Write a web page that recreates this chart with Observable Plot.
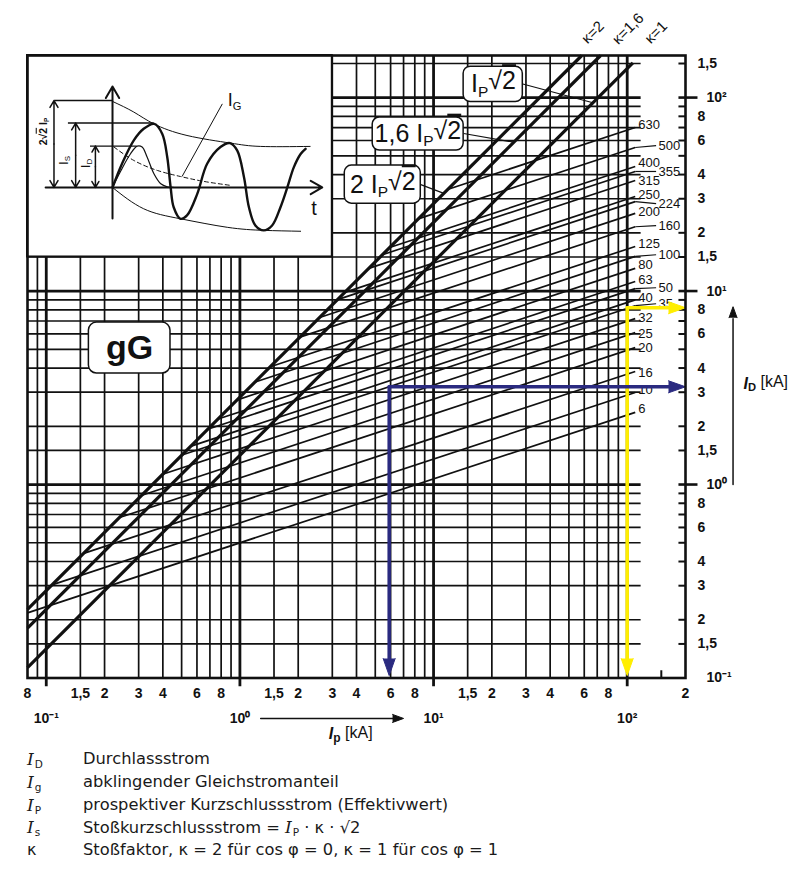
<!DOCTYPE html>
<html><head><meta charset="utf-8">
<script src="https://cdn.jsdelivr.net/npm/d3@7"></script>
<script src="https://cdn.jsdelivr.net/npm/@observablehq/plot@0.6"></script>
<style>
html,body{margin:0;padding:0;background:#fff;overflow:hidden}
#wrap{position:relative;width:800px;height:871px}
#main{position:absolute;left:0;top:0}
#inset{position:absolute;left:27px;top:55px}
#legend{position:absolute;left:0;top:748px;font-family:"DejaVu Sans",Verdana,sans-serif;font-size:16.3px;color:#1a1a1a}
.row{height:22.8px;line-height:22.8px;position:relative;width:800px}
.sym{position:absolute;left:27px;font-family:"DejaVu Serif",serif;font-style:italic;font-size:17px}
.sym.k{font-family:"DejaVu Sans",sans-serif;font-style:normal;font-size:16px}
sub{font-family:"DejaVu Sans",sans-serif;font-style:normal;font-size:10.5px;vertical-align:-3px;margin-left:1px}
.desc{position:absolute;left:83px;white-space:nowrap}
.desc i{font-family:"DejaVu Serif",serif;font-size:17px}
</style></head><body>
<div id="wrap"><div id="main"></div><div id="inset"></div><div id="legend"></div></div>
<script>
// ---------------- data ----------------
const ratings     = ["6","10","16","20","25","32","35","40","50","63","80","100","125","160","200","224","250","315","355","400","500","630"];
const fuseStartIp = [0.08,0.107,0.156,0.239,0.312,0.399,0.502,0.56,0.681,0.771,0.97,1.2,1.435,2.04,2.58,3.19,3.48,4.63,5.44,5.93,8.33,11.9];
const fuseStartID = [0.217,0.303,0.441,0.675,0.88,1.13,1.42,1.58,1.93,2.18,2.74,3.39,4.06,5.78,7.3,9.03,9.85,13.1,15.4,16.8,23.6,33.6];
const fuseEndIp   = 110;
const fuseEndID   = [2.36,2.99,3.84,5.1,6.1,7.2,8.4,9.0,10.3,11.2,13.1,15.1,17.0,21.5,25.2,29.0,30.8,37.3,41.5,44.0,55.2,70.0];
const labelID     = [2.45,3.07,3.8,5.11,6.0,7.3,8.6,9.25,10.4,11.4,13.6,15.4,17.6,21.8,25.7,28.3,31.5,37.3,41.5,46.1,56.5,72.5];
const labelFar    = [0,0,0,0,0,0,1,0,1,0,0,1,0,1,0,1,0,0,1,0,1,0];

const kappaLabel   = ["κ=2","κ=1,6","κ=1"];
const kappaStartIp = [0.08,0.08,0.08];
const kappaStartIs = [0.2263,0.181,0.1131];
const kappaEndIp   = [58.3,72.9,107];
const kappaEndIs   = [165,165,151.3];
const kappaTextIp  = [66.5,101,141];
const kappaTextIs  = [217,227,217];

const boxText   = ["IP√2","1,6 IP√2","2 IP√2"];
const boxIp1    = [14.3,4.85,3.48];
const boxIp2    = [28.9,14.3,8.59];
const boxIs1    = [94.8,53.2,28.3];
const boxIs2    = [144.5,78.8,44.5];
const boxTextIp = [20.4,8.3,5.47];
const boxTextIs = [117.5,65.2,35.5];
const leadToIp  = [66.5,26,11.3];
const leadToIs  = [94,58.8,32];

const gridX = [0.09,0.15,0.2,0.3,0.4,0.5,0.6,0.7,0.8,0.9,1.5,2,3,4,5,6,7,8,9,15,20,30,40,50,60,70,80,90];
const gridY = [0.15,0.2,0.3,0.4,0.5,0.6,0.7,0.8,0.9,1.5,2,3,4,5,6,7,8,9,15,20,30,40,50,60,70,80,90,150];
const decadesX = [0.1,1,10,100];
const decadesY = [1,10,100];

const bottomTickVals = [0.08,0.15,0.2,0.3,0.4,0.6,0.8,1.5,2,3,4,6,8,15,20,30,40,60,80,200];
const bottomTickText = ["8","1,5","2","3","4","6","8","1,5","2","3","4","6","8","1,5","2","3","4","6","8","2"];
const decadeText = ["10⁻¹","10⁰","10¹","10²"];
const rightTickVals = [150,80,60,40,30,20,15,8,6,4,3,2,1.5,0.8,0.6,0.4,0.3,0.2,0.15];
const rightTickText = ["1,5","8","6","4","3","2","1,5","8","6","4","3","2","1,5","8","6","4","3","2","1,5"];
const rightDecVals = [100,10,1,0.1];
const rightDecText = ["10²","10¹","10⁰","10⁻¹"];

// examples (blue, yellow)
const blueIp = 5.9, blueID = 3.2;
const yellowIp = 100, yellowID = 8.2;

// inset (t in ms, i in multiples of Ip)
const upperEnvelope = [[0,2.83],[5.6,2.48],[10.9,2.09],[19.6,1.71],[31,1.46],[38.9,1.35],[52,1.35]];
const lowerEnvelope = [[0,0],[8.2,-0.7],[17.9,-1.03],[30.2,-1.31],[39.8,-1.41],[49.5,-1.44]];
const shortCircuit  = [[0,0],[2.5,0.78],[5.6,1.55],[8.2,1.93],[11,2.09],[13.1,1.76],[14.4,1.0],[15.3,0],[16.1,-0.65],[17.9,-1.03],[19.6,-0.92],[22.3,-0.21],[24.9,0.78],[28.4,1.33],[30.9,1.46],[32.8,1.22],[34.6,0.34],[35.9,-0.65],[37.6,-1.25],[39.8,-1.41],[42,-1.25],[44.2,-0.65],[46,0],[47.7,0.66],[49.5,1.1],[50.8,1.27]];
const letThrough    = [[0,0],[2.2,0.55],[4.7,1.1],[6.5,1.36],[7.8,1.33],[9.1,1.0],[10.9,0.45],[12.7,0.12],[14.4,0.02],[16,0]];
const dcComponent   = [[0.4,1.33],[5.6,0.89],[11.8,0.56],[17.9,0.36],[24,0.2],[31,0.07]];
const dimT = [-15.4,-9.7,-4.5];
const dimI = [2.86,2.12,1.36];
const dimLineT1 = [-15.2,-11.6,-5.8];
const dimLineT2 = [0,11,6.5];

// ---------------- build ----------------
const fuse = ratings.map((r,i)=>({r, x1:fuseStartIp[i], y1:fuseStartID[i], x2:fuseEndIp, y2:fuseEndID[i], ly:labelID[i], far:labelFar[i]}));
const kap = kappaLabel.map((k,i)=>({k, x1:kappaStartIp[i], y1:kappaStartIs[i], x2:kappaEndIp[i], y2:kappaEndIs[i], tx:kappaTextIp[i], ty:kappaTextIs[i]}));
const boxes = boxText.map((t,i)=>({t, x1:boxIp1[i], x2:boxIp2[i], y1:boxIs1[i], y2:boxIs2[i], tx:boxTextIp[i], ty:boxTextIs[i], lx:leadToIp[i], ly:leadToIs[i]}));
const black = "#111";
const navy = "#2a2a80", yellow = "#ffee00";

const main = Plot.plot({
  width: 800, height: 750,
  marginLeft: 27, marginRight: 115, marginTop: 55, marginBottom: 72.5,
  x: {type: "log", domain: [0.08, 200], axis: null},
  y: {type: "log", domain: [0.1, 165], axis: null},
  style: {fontFamily: '"Liberation Sans", Arial, sans-serif', background: "white", color: black},
  marks: [
    Plot.ruleX(gridX, {y1: 0.1, y2: 165, stroke: black, strokeWidth: 1.7}),
    Plot.ruleX(decadesX, {y1: 0.09, y2: 165, stroke: black, strokeWidth: 2.8}),
    Plot.ruleY(gridY, {x1: 0.08, x2: 118, stroke: black, strokeWidth: 1.7}),
    Plot.ruleY(decadesY, {x1: 0.08, x2: 118, stroke: black, strokeWidth: 2.8}),
    Plot.ruleY(gridY, {x1: 185, x2: 200, stroke: black, strokeWidth: 2}),
    Plot.ruleY(decadesY, {x1: 185, x2: 232, stroke: black, strokeWidth: 2.6}),
    Plot.ruleX([150], {y1: 0.1, y2: 0.109, stroke: black, strokeWidth: 2}),
    // inset background
    Plot.rect([0], {x1: 0.08, x2: 3, y1: 15, y2: 165, fill: "white", stroke: black, strokeWidth: 2}),
    // fuse lines
    Plot.link(fuse, {x1: "x1", y1: "y1", x2: "x2", y2: "y2", stroke: black, strokeWidth: 1.7}),
    Plot.link(fuse.filter(d=>d.far), {x1: "x2", y1: "y2", x2: 141, y2: "ly", stroke: black, strokeWidth: 1.2}),
    Plot.text(fuse.filter(d=>!d.far), {x: 114, y: "ly", text: "r", textAnchor: "start", fontSize: 13, fill: black}),
    Plot.text(fuse.filter(d=>d.far), {x: 145, y: "ly", text: "r", textAnchor: "start", fontSize: 13, fill: black}),
    // kappa lines
    Plot.link(kap, {x1: "x1", y1: "y1", x2: "x2", y2: "y2", stroke: black, strokeWidth: 3.2}),
    Plot.text(kap, {x: "tx", y: "ty", text: "k", rotate: -45, fontSize: 15, fill: black}),
    // label boxes
    Plot.link(boxes, {x1: "x2", y1: "ty", x2: "lx", y2: "ly", stroke: black, strokeWidth: 1.2}),
    Plot.rect(boxes, {x1: "x1", x2: "x2", y1: "y1", y2: "y2", fill: "white", stroke: black, strokeWidth: 1.5, rx: 7}),
    Plot.text(boxes, {x: "tx", y: "ty", text: "t", fontSize: 25, fill: black}),
    Plot.rect([0], {x1: 0.166, x2: 0.438, y1: 3.75, y2: 6.87, fill: "white", stroke: black, strokeWidth: 1.5, rx: 8}),
    Plot.text(["gG"], {x: 0.2695, y: 5.05, text: d=>d, fontSize: 34, fontWeight: "bold", fill: black}),
    // examples
    Plot.line([[yellowIp, yellowID],[170, yellowID]], {x: d=>d[0], y: d=>d[1], stroke: yellow, strokeWidth: 3.5}),
    Plot.line([[yellowIp, yellowID],[yellowIp, 0.12]], {x: d=>d[0], y: d=>d[1], stroke: yellow, strokeWidth: 3.5}),
    Plot.vector([[200, yellowID, 90],[yellowIp, 0.103, 180]], {x: d=>d[0], y: d=>d[1], rotate: d=>d[2], length: 17, r: 6, shape: "spike", anchor: "end", fill: yellow, stroke: yellow, strokeWidth: 1}),
    Plot.line([[blueIp, blueID],[170, blueID]], {x: d=>d[0], y: d=>d[1], stroke: navy, strokeWidth: 3.5}),
    Plot.line([[blueIp, blueID],[blueIp, 0.12]], {x: d=>d[0], y: d=>d[1], stroke: navy, strokeWidth: 3.5}),
    Plot.vector([[200, blueID, 90],[blueIp, 0.103, 180]], {x: d=>d[0], y: d=>d[1], rotate: d=>d[2], length: 17, r: 6, shape: "spike", anchor: "end", fill: navy, stroke: navy, strokeWidth: 1}),
    // frame
    Plot.frame({stroke: black, strokeWidth: 2.6}),
    // tick labels
    Plot.text(bottomTickVals, {x: d=>d, y: 0.1, dy: 16, text: (d,i)=>bottomTickText[i], fontSize: 14, fontWeight: "bold", fill: black}),
    Plot.text(decadesX, {x: d=>d, y: 0.1, dy: 41, text: (d,i)=>decadeText[i], fontSize: 14, fontWeight: "bold", fill: black}),
    Plot.text(rightTickVals, {x: 200, y: d=>d, dx: 12, text: (d,i)=>rightTickText[i], textAnchor: "start", fontSize: 14, fontWeight: "bold", fill: black}),
    Plot.text(rightDecVals, {x: 200, y: d=>d, dx: 21, text: (d,i)=>rightDecText[i], textAnchor: "start", fontSize: 14, fontWeight: "bold", fill: black}),
    // axis titles
    Plot.text(["ID [kA]"], {x: 200, y: 3.33, dx: 58, text: d=>d, textAnchor: "start", fontSize: 16, fill: black}),
    Plot.line([[352, 1],[352, 7.2]], {x: d=>d[0], y: d=>d[1], stroke: black, strokeWidth: 1.5}),
    Plot.vector([[352, 8.3]], {x: d=>d[0], y: d=>d[1], rotate: 0, length: 11, r: 4, shape: "spike", anchor: "end", fill: black, stroke: black, strokeWidth: 1}),
    Plot.text(["Ip [kA]"], {x: 2.88, y: 0.1, dy: 56, text: d=>d, textAnchor: "start", fontSize: 16, fill: black}),
    Plot.line([[1.28, 0.0618],[6.2, 0.0618]], {x: d=>d[0], y: d=>d[1], stroke: black, strokeWidth: 1.5}),
    Plot.vector([[7.0, 0.0618]], {x: d=>d[0], y: d=>d[1], rotate: 90, length: 11, r: 4, shape: "spike", anchor: "end", fill: black, stroke: black, strokeWidth: 1})
  ]
});

const dims = dimT.map((t,i)=>({t, i: dimI[i], a: dimLineT1[i], b: dimLineT2[i]}));
const inset = Plot.plot({
  width: 305, height: 201, margin: 0,
  x: {domain: [-22.37, 57.89], axis: null},
  y: {domain: [-2.27, 4.34], axis: null},
  style: {fontFamily: '"Liberation Sans", Arial, sans-serif', background: "none", color: black, overflow: "visible"},
  marks: [
    Plot.line(upperEnvelope, {x: d=>d[0], y: d=>d[1], curve: "natural", stroke: black, strokeWidth: 1}),
    Plot.line(lowerEnvelope, {x: d=>d[0], y: d=>d[1], curve: "natural", stroke: black, strokeWidth: 1}),
    Plot.line(dcComponent, {x: d=>d[0], y: d=>d[1], curve: "natural", stroke: black, strokeWidth: 1, strokeDasharray: "4,3"}),
    Plot.line(letThrough, {x: d=>d[0], y: d=>d[1], curve: "catmull-rom", stroke: black, strokeWidth: 1.2}),
    Plot.line(shortCircuit, {x: d=>d[0], y: d=>d[1], curve: "catmull-rom", stroke: black, strokeWidth: 2.4}),
    Plot.arrow([0], {x1: 0, y1: -1.02, x2: 0, y2: 3.32, headLength: 10, stroke: black, strokeWidth: 2}),
    Plot.arrow([0], {x1: -17.6, y1: 0, x2: 55.2, y2: 0, headLength: 10, stroke: black, strokeWidth: 2}),
    Plot.ruleY(dims, {y: "i", x1: "a", x2: "b", stroke: black, strokeWidth: 1.3}),
    Plot.arrow(dims, {x1: "t", x2: "t", y1: d=>d.i/2, y2: "i", headLength: 8, stroke: black, strokeWidth: 1.5}),
    Plot.arrow(dims, {x1: "t", x2: "t", y1: d=>d.i/2, y2: 0, headLength: 8, stroke: black, strokeWidth: 1.5}),
    Plot.link([0], {x1: 18.3, y1: 0.36, x2: 28.9, y2: 2.75, stroke: black, strokeWidth: 1}),
    Plot.text(["IG"], {x: 30.3, y: 2.86, text: d=>d, textAnchor: "start", fontSize: 18, fill: black}),
    Plot.text(["t"], {x: 53, y: -0.7, text: d=>d, fontSize: 20, fill: black}),
    Plot.text(["2√2 IP"], {x: -18.2, y: 1.84, text: d=>d, rotate: -90, fontSize: 10.5, fontWeight: "bold", fill: black}),
    Plot.text(["IS"], {x: -12.8, y: 0.89, text: d=>d, rotate: -90, fontSize: 13, fill: black}),
    Plot.text(["ID"], {x: -7.1, y: 0.79, text: d=>d, rotate: -90, fontSize: 13, fill: black})
  ]
});

// rich text (subscripts, radical overline)
const ov = `<tspan style="text-decoration:overline">2</tspan>`;
const sb = s => `<tspan font-size="62%" dy="0.3em">${s}</tspan>`;
const richMain = {
  "IP√2": `I${sb("P")}<tspan dy="-0.3em">√</tspan>${ov}`,
  "1,6 IP√2": `1,6 I${sb("P")}<tspan dy="-0.3em">√</tspan>${ov}`,
  "2 IP√2": `2 I${sb("P")}<tspan dy="-0.3em">√</tspan>${ov}`,
  "ID [kA]": `<tspan font-style="italic" font-weight="bold">I</tspan><tspan font-size="70%" font-weight="bold" dy="0.25em">D</tspan><tspan dy="-0.25em"> [kA]</tspan>`,
  "Ip [kA]": `<tspan font-style="italic" font-weight="bold">I</tspan><tspan font-size="75%" font-weight="bold" dy="0.25em">p</tspan><tspan dy="-0.25em"> [kA]</tspan>`
};
const richInset = {
  "IG": `I${sb("G")}`,
  "2√2 IP": `2√${ov} I${sb("P")}`,
  "IS": `I${sb("S")}`,
  "ID": `I${sb("D")}`
};
function enrich(svg, map) {
  d3.select(svg).selectAll("text").each(function() {
    const k = this.textContent;
    if (map[k] !== undefined) this.innerHTML = map[k];
  });
}
enrich(main, richMain);
enrich(inset, richInset);
document.getElementById("main").append(main);
document.getElementById("inset").append(inset);

// legend
const legendSym  = ["I","I","I","I","κ"];
const legendSub  = ["D","g","P","s",""];
const legendDesc = ["Durchlassstrom","abklingender Gleichstromanteil","prospektiver Kurzschlussstrom (Effektivwert)","Stoßkurzschlussstrom = <i>I</i><sub>P</sub> · κ · √2","Stoßfaktor, κ = 2 für cos φ = 0, κ = 1 für cos φ = 1"];
document.getElementById("legend").innerHTML = legendSym.map((s,i)=>
  `<div class="row"><span class="sym${legendSub[i] ? "" : " k"}">${s}${legendSub[i] ? `<sub>${legendSub[i]}</sub>` : ""}</span><span class="desc">${legendDesc[i]}</span></div>`).join("");
</script></body></html>
